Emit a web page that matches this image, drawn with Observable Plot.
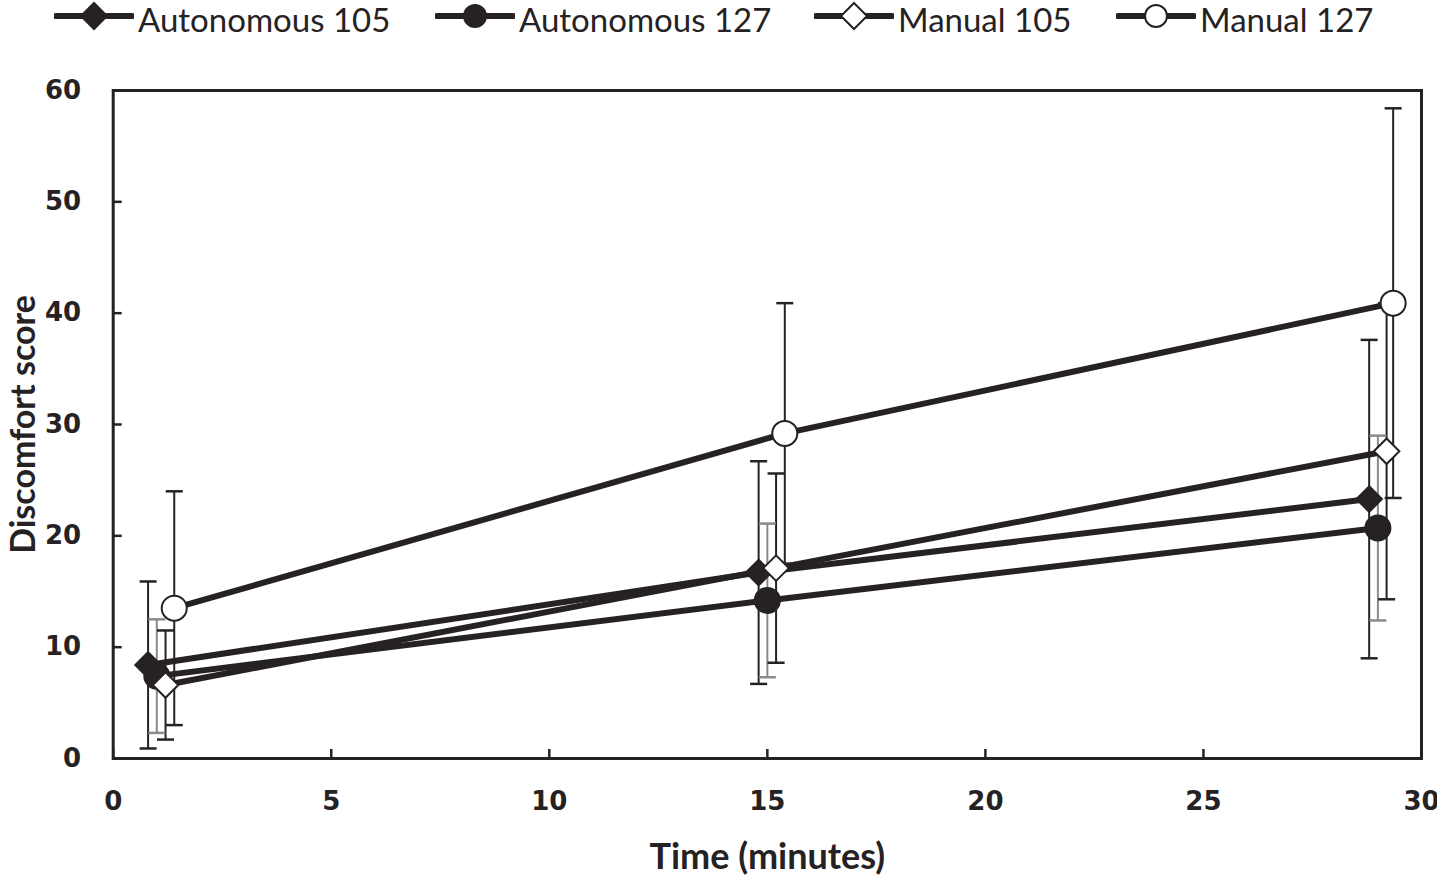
<!DOCTYPE html>
<html>
<head>
<meta charset="utf-8">
<script src="https://cdn.jsdelivr.net/npm/d3@7"></script>
<script src="https://cdn.jsdelivr.net/npm/@observablehq/plot@0.6"></script>
<style>
  body { margin: 0; background: #fff; }
  #legend { position: relative; width: 1437px; height: 38px; font-family: Lato, "Open Sans", sans-serif; font-size: 33px; line-height: 38px; color: #262223; }
  #legend .item { position: absolute; top: 0; height: 38px; display: flex; align-items: center; white-space: nowrap; }
  #legend svg { display: block; margin-right: 4px; }
  #chart svg { display: block; }
</style>
</head>
<body>
<div id="legend"></div>
<div id="chart"></div>
<script>
// ---- data ----
const series = ["Autonomous 105", "Autonomous 127", "Manual 105", "Manual 127"];

const timeAuto105   = [0.8, 14.8, 28.8];
const meanAuto105   = [8.4, 16.7, 23.3];
const sdAuto105     = [7.5, 10.0, 14.3];

const timeAuto127   = [1.0, 15.0, 29.0];
const meanAuto127   = [7.4, 14.2, 20.7];
const sdAuto127     = [5.1, 6.9, 8.3];

const timeManual105 = [1.2, 15.2, 29.2];
const meanManual105 = [6.6, 17.1, 27.6];
const sdManual105   = [4.9, 8.5, 13.3];

const timeManual127 = [1.4, 15.4, 29.35];
const meanManual127 = [13.5, 29.2, 40.9];
const sdManual127   = [10.5, 11.7, 17.5];

const xTicks = [0, 5, 10, 15, 20, 25, 30];
const yTicks = [0, 10, 20, 30, 40, 50, 60];

// ---- styles ----
const dark = "#262223";
const gray = "#8a8a8a";
const markerShape = {"Autonomous 105": "diamond2", "Autonomous 127": "circle", "Manual 105": "diamond2", "Manual 127": "circle"};
const markerFill  = {"Autonomous 105": dark, "Autonomous 127": dark, "Manual 105": "white", "Manual 127": "white"};
const barColor    = {"Autonomous 105": dark, "Autonomous 127": gray, "Manual 105": dark, "Manual 127": dark};

// ---- table built from the arrays ----
const times = [timeAuto105, timeAuto127, timeManual105, timeManual127];
const means = [meanAuto105, meanAuto127, meanManual105, meanManual127];
const sds   = [sdAuto105, sdAuto127, sdManual105, sdManual127];
const rows = [];
series.forEach((s, i) => times[i].forEach((t, j) => rows.push({series: s, t, mean: means[i][j], sd: sds[i][j]})));

// horizontal cap symbol for error bars
const capSymbol = {
  draw(context, size) {
    const w = Math.sqrt(size) / 2;
    context.moveTo(-w, 0);
    context.lineTo(w, 0);
  }
};

const tickFont = "DejaVu Sans";
const chart = Plot.plot({
  width: 1437,
  height: 837,
  marginLeft: 112.7,
  marginRight: 16,
  marginTop: 52,
  marginBottom: 117,
  style: {background: "white", color: dark, overflow: "visible"},
  x: {domain: [0, 30]},
  y: {domain: [0, 60]},
  marks: [
    Plot.frame({stroke: dark, strokeWidth: 3}),
    // tick marks pointing inside
    Plot.axisX({ticks: xTicks, tickSize: 9, dy: -9, text: null, label: null, stroke: dark, strokeWidth: 2.5}),
    Plot.axisY({ticks: yTicks, tickSize: 9, dx: 9, text: null, label: null, stroke: dark, strokeWidth: 2.5}),
    // tick labels
    Plot.axisX({ticks: xTicks, tickSize: 0, tickPadding: 33, label: null, fontSize: 26, fontWeight: "bold", fontFamily: tickFont, fill: dark}),
    Plot.axisY({ticks: yTicks, tickSize: 0, tickPadding: 32, label: null, fontSize: 26, fontWeight: "bold", fontFamily: tickFont, fill: dark}),
    // axis titles
    Plot.text(["Time (minutes)"], {frameAnchor: "bottom", dy: 110, textAnchor: "middle", fontSize: 36, fontWeight: "bold", fontFamily: "Lato", fill: dark}),
    Plot.text(["Discomfort score"], {frameAnchor: "left", dx: -89, textAnchor: "middle", rotate: -90, fontSize: 34, fontWeight: "bold", fontFamily: "Lato", fill: dark}),
    // lines
    Plot.line(rows, {x: "t", y: "mean", z: "series", stroke: dark, strokeWidth: 6, strokeLinejoin: "round"}),
    // error bars
    Plot.ruleX(rows, {x: "t", y1: d => d.mean - d.sd, y2: d => d.mean + d.sd, stroke: d => barColor[d.series], strokeWidth: 2}),
    Plot.dot(rows, {x: "t", y: d => d.mean + d.sd, symbol: capSymbol, r: 9.6, stroke: d => barColor[d.series], strokeWidth: 2.5, fill: "none"}),
    Plot.dot(rows, {x: "t", y: d => d.mean - d.sd, symbol: capSymbol, r: 9.6, stroke: d => barColor[d.series], strokeWidth: 2.5, fill: "none"}),
    // markers
    ...series.map(s => Plot.dot(rows.filter(d => d.series === s), {
      x: "t", y: "mean",
      symbol: markerShape[s],
      r: markerShape[s] === "circle" ? 12.5 : 11.5,
      fill: markerFill[s],
      stroke: dark,
      strokeWidth: 2
    }))
  ]
});
document.getElementById("chart").appendChild(chart);

// ---- legend ----
const legendLeft = [54, 435, 814, 1116];
const legend = document.getElementById("legend");
series.forEach((s, i) => {
  const item = document.createElement("div");
  item.className = "item";
  item.style.left = legendLeft[i] + "px";
  const sw = d3.create("svg").attr("width", 80).attr("height", 30).style("margin-top", "-6px");
  sw.append("line").attr("x1", 2).attr("x2", 78).attr("y1", 15).attr("y2", 15)
    .attr("stroke", dark).attr("stroke-width", 6).attr("stroke-linecap", "round");
  if (markerShape[s] === "circle") {
    sw.append("circle").attr("cx", 40).attr("cy", 15).attr("r", 11)
      .attr("fill", markerFill[s]).attr("stroke", dark).attr("stroke-width", 2);
  } else {
    sw.append("path").attr("d", "M40,2L53,15L40,28L27,15Z")
      .attr("fill", markerFill[s]).attr("stroke", dark).attr("stroke-width", 2);
  }
  item.appendChild(sw.node());
  const label = document.createElement("span");
  label.textContent = s;
  item.appendChild(label);
  legend.appendChild(item);
});
</script>
</body>
</html>
